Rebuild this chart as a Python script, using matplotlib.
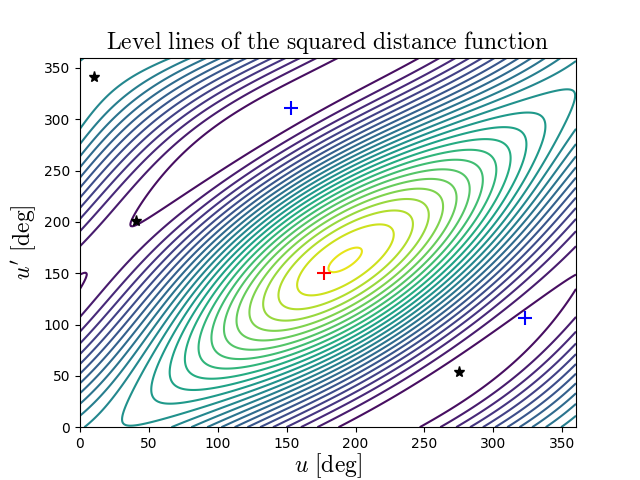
import matplotlib
matplotlib.use("Agg")
import matplotlib.pyplot as plt
import numpy as np

plt.rcParams["mathtext.fontset"] = "cm"

# orbital elements of the two curves (semi-major axis, eccentricity, orientation)
a1, e1 = 1.0, 0.2
a2, e2 = 1.15, 0.15
rot2_deg = -150.0
incl2_deg = 12.0
n_levels = 30

stars_u = [10, 41, 275]
stars_up = [341, 201, 54]
blue_u = [153, 323]
blue_up = [311, 106]
red_u = [177]
red_up = [150]


def orbit(u, a, e, rot, incl):
    x = a * (np.cos(u) - e)
    y = a * np.sqrt(1 - e**2) * np.sin(u)
    xr = x * np.cos(rot) - y * np.sin(rot)
    yr = x * np.sin(rot) + y * np.cos(rot)
    return xr, yr * np.cos(incl), yr * np.sin(incl)


u = np.linspace(0, 360, 361)
up = np.linspace(0, 360, 361)
U, UP = np.meshgrid(u, up)
x1, y1, z1 = orbit(np.radians(U), a1, e1, 0.0, 0.0)
x2, y2, z2 = orbit(np.radians(UP), a2, e2, np.radians(rot2_deg), np.radians(incl2_deg))
D2 = (x1 - x2)**2 + (y1 - y2)**2 + (z1 - z2)**2

fig, ax = plt.subplots(figsize=(6.4, 4.8), dpi=100)
fig.subplots_adjust(bottom=0.11)
ax.contour(U, UP, D2, levels=n_levels, cmap="viridis")
ax.plot(stars_u, stars_up, "k*", markersize=8)
ax.plot(blue_u, blue_up, "b+", markersize=10, mew=1.5)
ax.plot(red_u, red_up, "r+", markersize=10, mew=1.5)
ax.set_xlim(0, 360)
ax.set_ylim(0, 360)
ax.set_xlabel(r"$u\ [\mathrm{deg}]$", fontsize=17, labelpad=0)
ax.set_ylabel(r"$u'\ [\mathrm{deg}]$", fontsize=17)
ax.set_title(r"$\mathrm{Level\ lines\ of\ the\ squared\ distance\ function}$", fontsize=17)
fig.savefig("out.png")
